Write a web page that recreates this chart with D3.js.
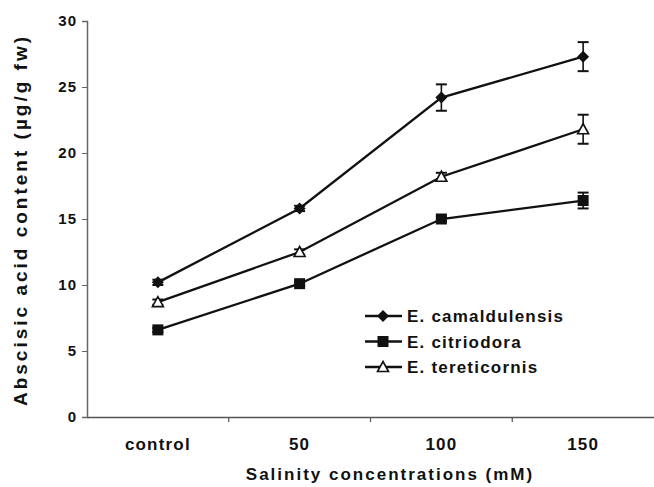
<!DOCTYPE html>
<html>
<head>
<meta charset="utf-8">
<script src="https://cdn.jsdelivr.net/npm/d3@7"></script>
<style>
  body { margin: 0; background: #fff; }
  text { font-family: Arial, "Liberation Sans", sans-serif; font-weight: bold; fill: #111; }
</style>
</head>
<body>
<svg id="chart" width="654" height="487"></svg>
<script>
// ----------------------------
// Data
// ----------------------------
var categories = ["control", "50", "100", "150"];
var seriesNames = ["E. camaldulensis", "E. citriodora", "E. tereticornis"];
var camaldulensis = [10.2, 15.8, 24.2, 27.3];
var camaldulensisErr = [0.2, 0.2, 1.0, 1.1];
var citriodora = [6.6, 10.1, 15.0, 16.4];
var citriodoraErr = [0.15, 0.15, 0.2, 0.6];
var tereticornis = [8.7, 12.5, 18.2, 21.8];
var tereticornisErr = [0.2, 0.2, 0.3, 1.1];
var yTicks = [0, 5, 10, 15, 20, 25, 30];

var series = [
    { name: seriesNames[0], values: camaldulensis, err: camaldulensisErr, marker: "diamond" },
    { name: seriesNames[1], values: citriodora, err: citriodoraErr, marker: "square" },
    { name: seriesNames[2], values: tereticornis, err: tereticornisErr, marker: "triangle" }
];

// ----------------------------
// Scales
// ----------------------------
var svg = d3.select("#chart");
var plotLeft = 87, plotRight = 654, plotTop = 21, plotBottom = 417;

var x = d3.scaleBand().domain(categories).range([plotLeft, plotRight]);
var y = d3.scaleLinear().domain([0, 30]).range([plotBottom, plotTop]);

// ----------------------------
// Axes
// ----------------------------
var yAxis = svg.append("g")
    .attr("transform", "translate(" + plotLeft + ",0)")
    .call(d3.axisLeft(y).tickValues(yTicks).tickSize(5).tickPadding(5));
yAxis.select(".domain").attr("stroke", "#666").attr("stroke-width", 1.5);
yAxis.selectAll(".tick line").attr("stroke", "#666");
yAxis.selectAll("text")
    .style("font-size", "15px")
    .style("letter-spacing", "1px")
    .attr("fill", "#111");

var xAxis = svg.append("g")
    .attr("transform", "translate(0," + plotBottom + ")")
    .call(d3.axisBottom(x).tickSize(0).tickPadding(21));
xAxis.select(".domain").attr("stroke", "#555").attr("stroke-width", 1.5);
xAxis.selectAll("text")
    .style("font-size", "17px")
    .style("letter-spacing", "1.2px")
    .attr("fill", "#111");

// Tick marks between categories
svg.selectAll(".bandTick")
    .data(categories.slice(1))
    .enter().append("line")
    .attr("class", "bandTick")
    .attr("x1", d => x(d)).attr("x2", d => x(d))
    .attr("y1", plotBottom).attr("y2", plotBottom + 5)
    .attr("stroke", "#555").attr("stroke-width", 1.2);

// Axis titles
svg.append("text")
    .attr("x", 390).attr("y", 480)
    .attr("text-anchor", "middle")
    .style("font-size", "17px")
    .style("letter-spacing", "2px")
    .text("Salinity concentrations (mM)");

svg.append("text")
    .attr("transform", "translate(27,220) rotate(-90)")
    .attr("text-anchor", "middle")
    .style("font-size", "19px")
    .style("letter-spacing", "3px")
    .text("Abscisic acid content (µg/g fw)");

// ----------------------------
// Markers
// ----------------------------
function drawMarker(g, type, cx, cy) {
    if (type === "diamond") {
        g.append("path")
            .attr("d", `M${cx},${cy - 6}L${cx + 6},${cy}L${cx},${cy + 6}L${cx - 6},${cy}Z`)
            .attr("fill", "#111");
    } else if (type === "square") {
        g.append("rect")
            .attr("x", cx - 5.5).attr("y", cy - 5.5).attr("width", 11).attr("height", 11)
            .attr("fill", "#111");
    } else {
        g.append("path")
            .attr("d", `M${cx},${cy - 5.5}L${cx + 5.5},${cy + 4.5}L${cx - 5.5},${cy + 4.5}Z`)
            .attr("fill", "#fff").attr("stroke", "#111").attr("stroke-width", 1.6);
    }
}

var cx = d => x(d) + x.bandwidth() / 2;
var line = d3.line()
    .x((d, i) => cx(categories[i]))
    .y(d => y(d));

series.forEach(function (s) {
    var g = svg.append("g");
    g.append("path")
        .attr("d", line(s.values))
        .attr("fill", "none")
        .attr("stroke", "#111")
        .attr("stroke-width", 2.3);

    // Error bars
    s.values.forEach(function (v, i) {
        var px = cx(categories[i]);
        var e = s.err[i];
        g.append("line")
            .attr("x1", px).attr("x2", px)
            .attr("y1", y(v + e)).attr("y2", y(v - e))
            .attr("stroke", "#111").attr("stroke-width", 1.6);
        [v + e, v - e].forEach(function (ev) {
            g.append("line")
                .attr("x1", px - 5.5).attr("x2", px + 5.5)
                .attr("y1", y(ev)).attr("y2", y(ev))
                .attr("stroke", "#111").attr("stroke-width", 2);
        });
        drawMarker(g, s.marker, px, y(v));
    });
});

// ----------------------------
// Legend
// ----------------------------
var legend = svg.append("g");
series.forEach(function (s, i) {
    var ly = 316 + i * 25.5;
    legend.append("line")
        .attr("x1", 365).attr("x2", 402)
        .attr("y1", ly).attr("y2", ly)
        .attr("stroke", "#111").attr("stroke-width", 2.3);
    drawMarker(legend, s.marker, 383, ly);
    legend.append("text")
        .attr("x", 407).attr("y", ly)
        .attr("dy", "0.36em")
        .style("font-size", "17px")
        .style("letter-spacing", "1.2px")
        .text(s.name);
});
</script>
</body>
</html>
